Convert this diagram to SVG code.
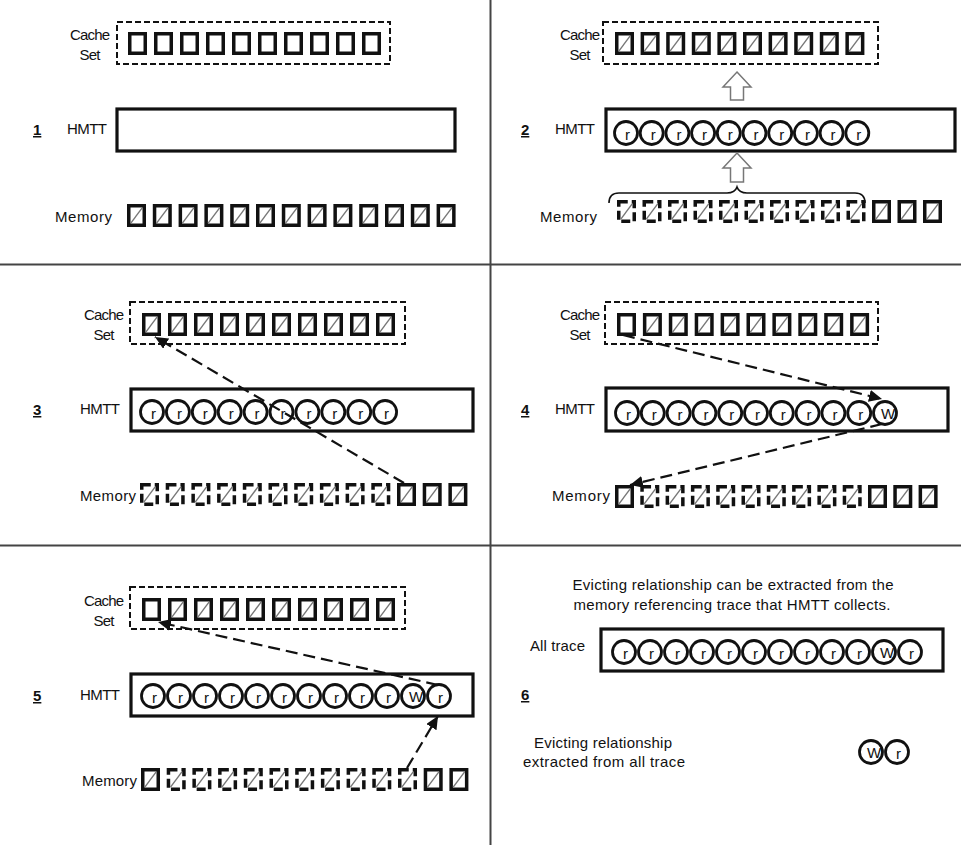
<svg xmlns="http://www.w3.org/2000/svg" xmlns:xlink="http://www.w3.org/1999/xlink" width="961" height="845" viewBox="0 0 961 845">
<style>
text{font-family:"Liberation Sans",Arial,sans-serif;font-size:15px;fill:#111}
.num{font-weight:bold;text-decoration:underline}
.mid{text-anchor:middle}
.set{fill:none;stroke:#111;stroke-width:2;stroke-dasharray:6,3}
.box{fill:#fff;stroke:#111;stroke-width:3.2}
.div{stroke:#444;stroke-width:2}
.conn{fill:none;stroke:#111;stroke-width:2.2;stroke-dasharray:12,6}
.blk{fill:#fff;stroke:#777;stroke-width:1.5}
.brace{fill:none;stroke:#111;stroke-width:1.6}
</style>
<defs>
<marker id="ah" markerUnits="userSpaceOnUse" markerWidth="14" markerHeight="12" refX="13" refY="6" orient="auto"><path d="M0,0 L13,6 L0,12 z" fill="#111"/></marker>
<g id="sq"><rect x="1.75" y="1.75" width="15.5" height="19.5" fill="#fff" stroke="#111" stroke-width="3.5"/></g>
<g id="sqh"><rect x="1.75" y="1.75" width="15.5" height="19.5" fill="#fff" stroke="#111" stroke-width="3.5"/><line x1="3.8" y1="19.2" x2="15.2" y2="3.8" stroke="#777" stroke-width="1.4"/></g>
<g id="sqd"><rect x="1.75" y="1.75" width="15.5" height="19.5" fill="#fff" stroke="#111" stroke-width="3.5" stroke-dasharray="9,4"/><line x1="3.8" y1="19.2" x2="15.2" y2="3.8" stroke="#777" stroke-width="1.4"/></g>
<g id="cr"><circle r="11.5" fill="#fff" stroke="#111" stroke-width="2.8"/><text x="1.5" y="6.5" class="mid">r</text></g>
<g id="cw"><circle r="11.5" fill="#fff" stroke="#111" stroke-width="2.8"/><text x="3" y="6" class="mid" font-size="14">W</text></g>
</defs>
<rect width="961" height="845" fill="#fff"/>
<g id="dividers">
<line class="div" x1="490.5" y1="0" x2="490.5" y2="845"/>
<line class="div" x1="0" y1="264.5" x2="961" y2="264.5"/>
<line class="div" x1="0" y1="545.5" x2="961" y2="545.5"/>
</g>

<!-- Panel 1 -->
<g id="p1-label"><text x="33" y="135" class="num">1</text></g>
<g id="p1-cache">
<text x="90" y="40" class="mid" textLength="40">Cache</text><text x="90" y="60" class="mid" textLength="21">Set</text>
<rect class="set" x="117" y="22" width="273" height="42"/>
<use href="#sq" x="128" y="32"/><use href="#sq" x="154" y="32"/><use href="#sq" x="180" y="32"/><use href="#sq" x="206" y="32"/><use href="#sq" x="232" y="32"/><use href="#sq" x="258" y="32"/><use href="#sq" x="284" y="32"/><use href="#sq" x="310" y="32"/><use href="#sq" x="336" y="32"/><use href="#sq" x="362" y="32"/>
</g>
<g id="p1-hmtt">
<text x="67" y="134" textLength="40">HMTT</text>
<rect class="box" x="117" y="109" width="338" height="42"/>
</g>
<g id="p1-memory">
<text x="55" y="222" textLength="57">Memory</text>
<use href="#sqh" x="127" y="204"/><use href="#sqh" x="152.8" y="204"/><use href="#sqh" x="178.6" y="204"/><use href="#sqh" x="204.4" y="204"/><use href="#sqh" x="230.2" y="204"/><use href="#sqh" x="256" y="204"/><use href="#sqh" x="281.8" y="204"/><use href="#sqh" x="307.6" y="204"/><use href="#sqh" x="333.4" y="204"/><use href="#sqh" x="359.2" y="204"/><use href="#sqh" x="385" y="204"/><use href="#sqh" x="410.8" y="204"/><use href="#sqh" x="436.6" y="204"/>
</g>

<!-- Panel 2 -->
<g id="p2-label"><text x="521" y="135" class="num">2</text></g>
<g id="p2-cache">
<text x="580" y="40" class="mid" textLength="40">Cache</text><text x="580" y="60" class="mid" textLength="21">Set</text>
<rect class="set" x="603" y="22" width="275" height="42"/>
<use href="#sqh" x="615" y="32"/><use href="#sqh" x="640.6" y="32"/><use href="#sqh" x="666.2" y="32"/><use href="#sqh" x="691.8" y="32"/><use href="#sqh" x="717.4" y="32"/><use href="#sqh" x="743" y="32"/><use href="#sqh" x="768.6" y="32"/><use href="#sqh" x="794.2" y="32"/><use href="#sqh" x="819.8" y="32"/><use href="#sqh" x="845.4" y="32"/>
</g>
<g id="p2-hmtt">
<text x="555" y="134" textLength="40">HMTT</text>
<rect class="box" x="606" y="109" width="349" height="42"/>
<use href="#cr" x="626" y="133"/><use href="#cr" x="651.7" y="133"/><use href="#cr" x="677.4" y="133"/><use href="#cr" x="703.1" y="133"/><use href="#cr" x="728.8" y="133"/><use href="#cr" x="754.5" y="133"/><use href="#cr" x="780.2" y="133"/><use href="#cr" x="805.9" y="133"/><use href="#cr" x="831.6" y="133"/><use href="#cr" x="857.3" y="133"/>
</g>
<g id="p2-memory">
<text x="540" y="222" textLength="57">Memory</text>
<use href="#sqd" x="617" y="200"/><use href="#sqd" x="642.5" y="200"/><use href="#sqd" x="668" y="200"/><use href="#sqd" x="693.5" y="200"/><use href="#sqd" x="719" y="200"/><use href="#sqd" x="744.5" y="200"/><use href="#sqd" x="770" y="200"/><use href="#sqd" x="795.5" y="200"/><use href="#sqd" x="821" y="200"/><use href="#sqd" x="846.5" y="200"/><use href="#sqh" x="872" y="200"/><use href="#sqh" x="897.5" y="200"/><use href="#sqh" x="923" y="200"/>
</g>

<!-- Panel 3 -->
<g id="p3-label"><text x="33" y="415" class="num">3</text></g>
<g id="p3-cache">
<text x="104" y="320" class="mid" textLength="40">Cache</text><text x="104" y="340" class="mid" textLength="21">Set</text>
<rect class="set" x="130" y="302" width="275" height="42"/>
<use href="#sqh" x="142" y="313"/><use href="#sqh" x="168" y="313"/><use href="#sqh" x="194" y="313"/><use href="#sqh" x="220" y="313"/><use href="#sqh" x="246" y="313"/><use href="#sqh" x="272" y="313"/><use href="#sqh" x="298" y="313"/><use href="#sqh" x="324" y="313"/><use href="#sqh" x="350" y="313"/><use href="#sqh" x="376" y="313"/>
</g>
<g id="p3-hmtt">
<text x="80" y="414" textLength="40">HMTT</text>
<rect class="box" x="131" y="389" width="342" height="42"/>
<use href="#cr" x="152" y="412"/><use href="#cr" x="177.9" y="412"/><use href="#cr" x="203.8" y="412"/><use href="#cr" x="229.7" y="412"/><use href="#cr" x="255.6" y="412"/><use href="#cr" x="281.5" y="412"/><use href="#cr" x="307.4" y="412"/><use href="#cr" x="333.3" y="412"/><use href="#cr" x="359.2" y="412"/><use href="#cr" x="385.1" y="412"/>
</g>
<g id="p3-memory">
<text x="80" y="501" textLength="56">Memory</text>
<use href="#sqd" x="140" y="483"/><use href="#sqd" x="165.7" y="483"/><use href="#sqd" x="191.4" y="483"/><use href="#sqd" x="217.1" y="483"/><use href="#sqd" x="242.8" y="483"/><use href="#sqd" x="268.5" y="483"/><use href="#sqd" x="294.2" y="483"/><use href="#sqd" x="319.9" y="483"/><use href="#sqd" x="345.6" y="483"/><use href="#sqd" x="371.3" y="483"/><use href="#sqh" x="397" y="483"/><use href="#sqh" x="422.7" y="483"/><use href="#sqh" x="448.4" y="483"/>
</g>

<!-- Panel 4 -->
<g id="p4-label"><text x="521" y="415" class="num">4</text></g>
<g id="p4-cache">
<text x="580" y="320" class="mid" textLength="40">Cache</text><text x="580" y="340" class="mid" textLength="21">Set</text>
<rect class="set" x="605" y="302" width="273" height="42"/>
<use href="#sq" x="617" y="313"/><use href="#sqh" x="642.9" y="313"/><use href="#sqh" x="668.8" y="313"/><use href="#sqh" x="694.7" y="313"/><use href="#sqh" x="720.6" y="313"/><use href="#sqh" x="746.5" y="313"/><use href="#sqh" x="772.4" y="313"/><use href="#sqh" x="798.3" y="313"/><use href="#sqh" x="824.2" y="313"/><use href="#sqh" x="850.1" y="313"/>
</g>
<g id="p4-hmtt">
<text x="555" y="414" textLength="40">HMTT</text>
<rect class="box" x="606" y="388" width="342" height="43"/>
<use href="#cr" x="627" y="413"/><use href="#cr" x="652.8" y="413"/><use href="#cr" x="678.6" y="413"/><use href="#cr" x="704.4" y="413"/><use href="#cr" x="730.2" y="413"/><use href="#cr" x="756" y="413"/><use href="#cr" x="781.8" y="413"/><use href="#cr" x="807.6" y="413"/><use href="#cr" x="833.4" y="413"/><use href="#cr" x="859.2" y="413"/><use href="#cw" x="885" y="413"/>
</g>
<g id="p4-memory">
<text x="552" y="501" textLength="58">Memory</text>
<use href="#sqh" x="615" y="485"/><use href="#sqd" x="640.3" y="485"/><use href="#sqd" x="665.6" y="485"/><use href="#sqd" x="690.9" y="485"/><use href="#sqd" x="716.2" y="485"/><use href="#sqd" x="741.5" y="485"/><use href="#sqd" x="766.8" y="485"/><use href="#sqd" x="792.1" y="485"/><use href="#sqd" x="817.4" y="485"/><use href="#sqd" x="842.7" y="485"/><use href="#sqh" x="868" y="485"/><use href="#sqh" x="893.3" y="485"/><use href="#sqh" x="918.6" y="485"/>
</g>

<!-- Panel 5 -->
<g id="p5-label"><text x="33" y="701" class="num">5</text></g>
<g id="p5-cache">
<text x="104" y="606" class="mid" textLength="40">Cache</text><text x="104" y="626" class="mid" textLength="21">Set</text>
<rect class="set" x="130" y="587" width="275" height="42"/>
<use href="#sq" x="142" y="598"/><use href="#sqh" x="168" y="598"/><use href="#sqh" x="194" y="598"/><use href="#sqh" x="220" y="598"/><use href="#sqh" x="246" y="598"/><use href="#sqh" x="272" y="598"/><use href="#sqh" x="298" y="598"/><use href="#sqh" x="324" y="598"/><use href="#sqh" x="350" y="598"/><use href="#sqh" x="376" y="598"/>
</g>
<g id="p5-hmtt">
<text x="80" y="700" textLength="40">HMTT</text>
<rect class="box" x="131" y="674" width="342" height="42"/>
<use href="#cr" x="153" y="696"/><use href="#cr" x="179" y="696"/><use href="#cr" x="205" y="696"/><use href="#cr" x="231" y="696"/><use href="#cr" x="257" y="696"/><use href="#cr" x="283" y="696"/><use href="#cr" x="309" y="696"/><use href="#cr" x="335" y="696"/><use href="#cr" x="361" y="696"/><use href="#cr" x="387" y="696"/><use href="#cw" x="413" y="696"/><use href="#cr" x="439" y="696"/>
</g>
<g id="p5-memory">
<text x="82" y="786" textLength="55">Memory</text>
<use href="#sqh" x="141" y="768"/><use href="#sqd" x="166.7" y="768"/><use href="#sqd" x="192.4" y="768"/><use href="#sqd" x="218.1" y="768"/><use href="#sqd" x="243.8" y="768"/><use href="#sqd" x="269.5" y="768"/><use href="#sqd" x="295.2" y="768"/><use href="#sqd" x="320.9" y="768"/><use href="#sqd" x="346.6" y="768"/><use href="#sqd" x="372.3" y="768"/><use href="#sqd" x="398" y="768"/><use href="#sqh" x="423.7" y="768"/><use href="#sqh" x="449.4" y="768"/>
</g>

<!-- Panel 6 -->
<g id="p6-caption">
<text x="733" y="590" class="mid" textLength="321">Evicting relationship can be extracted from the</text>
<text x="732" y="610" class="mid" textLength="317">memory referencing trace that HMTT collects.</text>
</g>
<g id="p6-trace">
<text x="530" y="651" textLength="55">All trace</text>
<rect class="box" x="601" y="629" width="342" height="42"/>
<use href="#cr" x="624" y="652"/><use href="#cr" x="650" y="652"/><use href="#cr" x="676" y="652"/><use href="#cr" x="702" y="652"/><use href="#cr" x="728" y="652"/><use href="#cr" x="754" y="652"/><use href="#cr" x="780" y="652"/><use href="#cr" x="806" y="652"/><use href="#cr" x="832" y="652"/><use href="#cr" x="858" y="652"/><use href="#cw" x="884" y="652"/><use href="#cr" x="910" y="652"/>
</g>
<g id="p6-label"><text x="521" y="700" class="num">6</text></g>
<g id="p6-result">
<text x="603" y="748" class="mid" textLength="138">Evicting relationship</text>
<text x="604" y="767" class="mid" textLength="162">extracted from all trace</text>
<use href="#cw" x="871" y="752"/><use href="#cr" x="897" y="752"/>
</g>

<g id="connectors">
<path class="blk" d="M737,72 L751,87 L743.5,87 L743.5,100 L730.5,100 L730.5,87 L723,87 Z"/>
<path class="blk" d="M737,153 L751,168 L743.5,168 L743.5,182 L730.5,182 L730.5,168 L723,168 Z"/>
<path class="brace" d="M609,203 Q609,193 619,193 L727,193 Q735,193 737,187 Q739,193 747,193 L855,193 Q865,193 865,203"/>
<line class="conn" x1="404" y1="483" x2="155" y2="337" marker-end="url(#ah)"/>
<line class="conn" x1="623" y1="335" x2="882" y2="399" marker-end="url(#ah)"/>
<line class="conn" x1="882" y1="424" x2="630" y2="485" marker-end="url(#ah)"/>
<line class="conn" x1="438" y1="685" x2="158" y2="622" marker-end="url(#ah)"/>
<line class="conn" x1="407" y1="768" x2="438" y2="716" marker-end="url(#ah)"/>
</g>
</svg>
